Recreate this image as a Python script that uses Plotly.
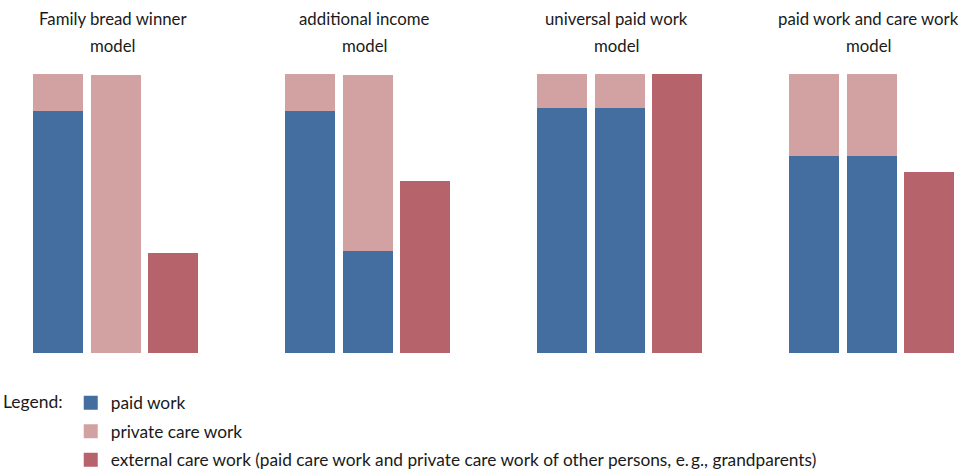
import plotly.graph_objects as go

# ---- data ----
group_titles = ["Family bread winner\nmodel", "additional income\nmodel",
                "universal paid work\nmodel", "paid work and care work\nmodel"]
# two stacked bars per group (person 1, person 2)
paid_work = [[87.1, 0.0], [87.1, 36.9], [88.2, 88.2], [71.0, 71.0]]
private_care = [[12.5, 99.3], [12.5, 62.4], [11.8, 11.8], [29.0, 29.0]]
# third bar per group
external_care = [35.5, 61.3, 100.0, 64.5]

series_names = ["paid work", "private care work",
                "external care work (paid care work and private care work of other persons, e.\u2009g., grandparents)"]
colors = ["#436e9f", "#d2a2a2", "#b7636b"]

# ---- layout helpers ----
GROUP_STEP = 4.383
BAR_W = 0.835   # plus 1px outline each side -> ~50px
PLOT_TOP, PLOT_BOTTOM = 74, 353

def xpos(g, b):
    return g * GROUP_STEP + b

def paper_y(px):
    return (PLOT_BOTTOM - px) / (PLOT_BOTTOM - PLOT_TOP)

x_stack = [xpos(g, b) for g in range(4) for b in range(2)]
x_ext = [xpos(g, 2) for g in range(4)]

fig = go.Figure()
stack_series = [paid_work, private_care]
for k, series in enumerate(stack_series):
    fig.add_trace(go.Bar(x=x_stack, y=[v for pair in series for v in pair],
                         width=BAR_W, marker=dict(color=colors[k], line=dict(color=colors[k], width=2)),
                         name=series_names[k], legendgroup=str(k)))
fig.add_trace(go.Bar(x=x_ext, y=external_care,
                     width=BAR_W, marker=dict(color=colors[2], line=dict(color=colors[2], width=2)),
                     name=series_names[2], legendgroup="2"))

FONT = "Lato"
TXT = "#1a1a1a"
annotations = []
for g, t in enumerate(group_titles):
    lines = t.split("\n")
    for i, line in enumerate(lines):
        annotations.append(dict(x=xpos(g, 1) - 0.05, xref="x", y=paper_y(18 + 27 * i), yref="paper",
                                text=line, showarrow=False, xanchor="center", yanchor="middle",
                                font=dict(family=FONT, size=16.8, color=TXT)))

fig.update_layout(
    width=963, height=474,
    margin=dict(l=0, r=0, t=PLOT_TOP, b=474 - PLOT_BOTTOM, autoexpand=False),
    barmode="stack",
    plot_bgcolor="white", paper_bgcolor="white",
    xaxis=dict(range=[-1.009, 15.74], visible=False, fixedrange=True),
    yaxis=dict(range=[0, 100], visible=False, fixedrange=True),
    showlegend=True,
    legend=dict(x=1 / 963, xanchor="left", y=paper_y(385), yanchor="top",
                title=dict(text="Legend:", side="left", font=dict(family=FONT, size=17.5, color=TXT)),
                font=dict(family=FONT, size=17.3, color=TXT),
                traceorder="grouped", tracegroupgap=3, itemwidth=30, bgcolor="rgba(0,0,0,0)"),
    annotations=annotations,
)

fig.write_html("out.html", config={"displayModeBar": False},
               post_script="document.body.style.margin='0px';")
